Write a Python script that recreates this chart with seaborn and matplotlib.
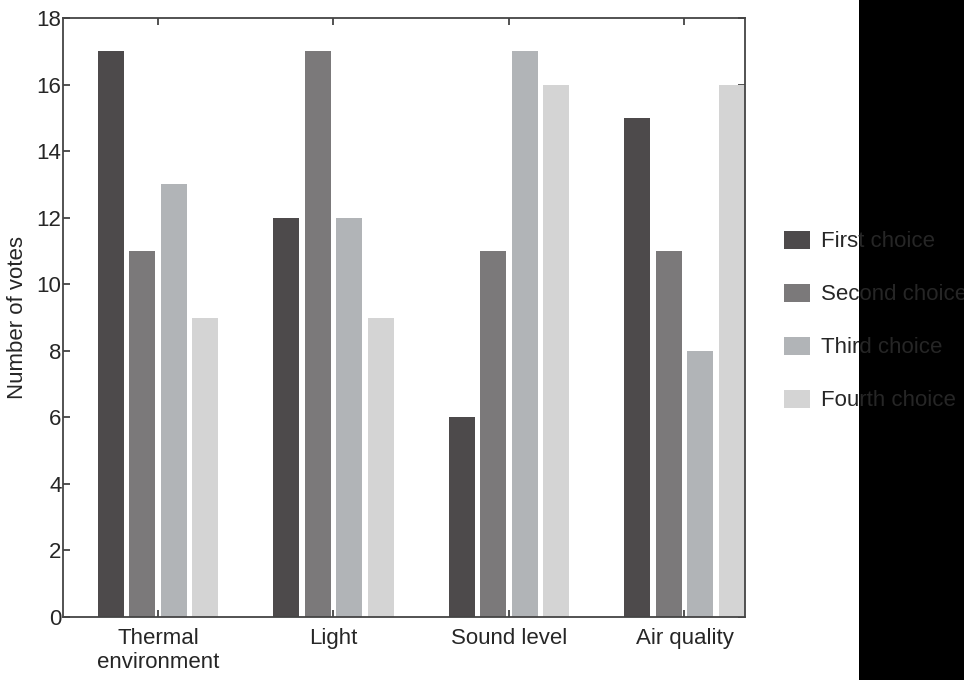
import pandas as pd
import matplotlib.pyplot as plt
import seaborn as sns
from matplotlib.patches import Rectangle

sns.set_theme(style="ticks")
plt.rcParams["font.family"] = ["Liberation Sans", "DejaVu Sans"]

categories = ["Thermal\nenvironment", "Light", "Sound level", "Air quality"]
choices = ["First choice", "Second choice", "Third choice", "Fourth choice"]

first = [17, 12, 6, 15]
second = [11, 17, 11, 11]
third = [13, 12, 17, 8]
fourth = [9, 9, 16, 16]

colors = ["#4d4a4b", "#7b797a", "#b1b4b7", "#d4d4d4"]

rows = []
for choice, vals in zip(choices, [first, second, third, fourth]):
    for cat, v in zip(categories, vals):
        rows.append({"category": cat, "choice": choice, "votes": v})
df = pd.DataFrame(rows)

fig = plt.figure(figsize=(9.64, 6.80), dpi=100)
ax = fig.add_axes([63 / 964, 1 - 617 / 680, 682 / 964, 599 / 680])

sns.barplot(data=df, x="category", y="votes", hue="choice", order=categories,
            hue_order=choices, palette=colors, width=0.72, gap=0.18,
            linewidth=0, saturation=1, ax=ax, legend=False)

ax.set_xlim(-0.541, 3.345)
ax.set_ylim(0, 18)
ax.set_yticks(range(0, 19, 2))
ax.set_xlabel("")
ax.set_ylabel("Number of votes", fontsize=16, color="#262626")
ax.yaxis.set_label_coords(-35 / 682, 0.5)

spine_col = "#444444"
for s in ax.spines.values():
    s.set_color(spine_col)
    s.set_linewidth(1.3)
ax.tick_params(axis="both", direction="in", length=5, width=1.3, color=spine_col,
               labelsize=16, labelcolor="#262626", top=True, right=True)
ax.tick_params(axis="y", pad=1)
ax.tick_params(axis="x", pad=8)

# black block at the right edge, as in the reference
fig.patches.append(Rectangle((859 / 964, 0), 1 - 859 / 964, 1, transform=fig.transFigure,
                             facecolor="black", edgecolor="none", zorder=0))

handles = [Rectangle((0, 0), 1, 1, facecolor=c, edgecolor="none") for c in colors]
leg = fig.legend(handles, choices, loc="center left", bbox_to_anchor=(784 / 964, 1 - 321 / 680),
                 frameon=False, fontsize=16, handlelength=1.17, handleheight=0.9,
                 handletextpad=0.5, labelspacing=1.4, borderpad=0, borderaxespad=0)
for t in leg.get_texts():
    t.set_color("#262626")
leg.set_zorder(5)

fig.savefig("out.png", dpi=100)
